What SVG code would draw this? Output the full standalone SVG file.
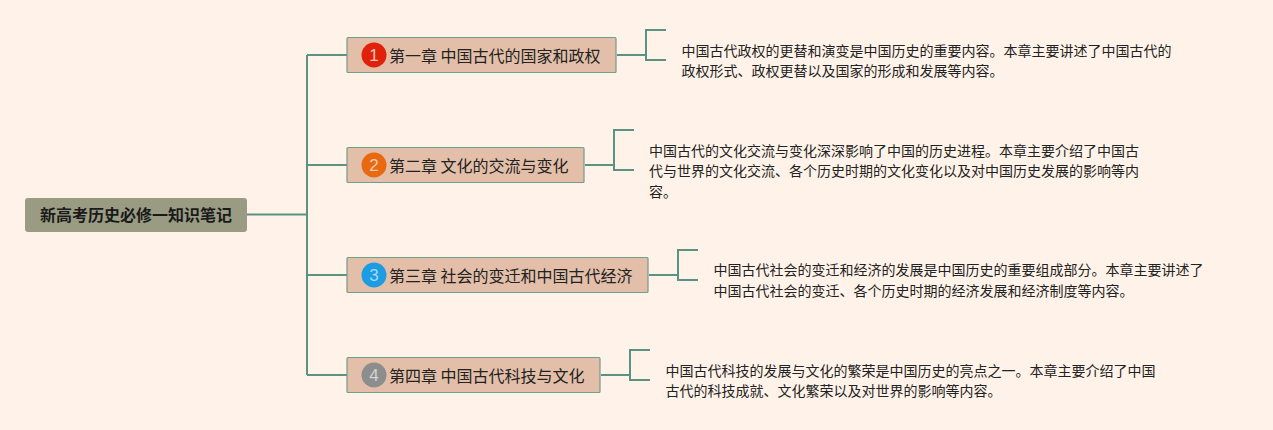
<svg xmlns="http://www.w3.org/2000/svg" width="1273" height="430" viewBox="0 0 1273 430">
<style>
.c{fill:none;stroke:#5c9282;stroke-width:2}
.t{fill:#e3bfa9;stroke:#6f9e8b;stroke-width:1.2}
.h{font-family:"Noto Sans CJK SC","Liberation Sans",sans-serif;font-size:16px;fill:#222}
.d{font-family:"Noto Sans CJK SC","Liberation Sans",sans-serif;font-size:14px;fill:#222}
.n{font-family:"Liberation Sans",sans-serif;font-size:17px;text-anchor:middle;fill:#f4c9b4}
</style>
<rect width="1273" height="430" fill="#fff3e9"/>
<g id="connectors" class="c">
<path d="M247 214.500H307M307 55V375M307 55H347M307 165H347M307 275H347M307 375H347"/>
<path d="M617 55H646M666 30H646V60H666"/>
<path d="M585 165H614M634 130H614V170H634"/>
<path d="M649 275H678M698 250H678V280H698"/>
<path d="M601 375H630M650 350H630V380H650"/>
</g>
<g id="root"><rect x="25" y="198" width="222" height="34" rx="3" fill="#999c82"/><text x="136" y="220.500" text-anchor="middle" font-family="'Noto Sans CJK SC',sans-serif" font-size="16" font-weight="700" fill="#1a1a1a">新高考历史必修一知识笔记</text></g>
<g id="n1"><rect class="t" x="347" y="37.500" width="269" height="35" rx="1"/><circle cx="374" cy="55" r="12.500" fill="#e0210b"/><text class="n" x="374" y="61">1</text><text class="h" x="389" y="61.500">第一章 中国古代的国家和政权</text></g>
<g id="n2"><rect class="t" x="347" y="147.500" width="237" height="35" rx="1"/><circle cx="374" cy="165" r="12.500" fill="#e8690f"/><text class="n" x="374" y="171">2</text><text class="h" x="389" y="171.500">第二章 文化的交流与变化</text></g>
<g id="n3"><rect class="t" x="347" y="257.500" width="301" height="35" rx="1"/><circle cx="374" cy="275" r="12.500" fill="#1c9ce2"/><text class="n" x="374" y="281" style="fill:#a9d8f0">3</text><text class="h" x="389" y="281.500">第三章 社会的变迁和中国古代经济</text></g>
<g id="n4"><rect class="t" x="347" y="357.500" width="253" height="35" rx="1"/><circle cx="374" cy="375" r="12.500" fill="#8d8d8d"/><text class="n" x="374" y="381" style="fill:#d4d4d4">4</text><text class="h" x="389" y="381.500">第四章 中国古代科技与文化</text></g>
<g id="d1" class="d"><text x="681.500" y="56">中国古代政权的更替和演变是中国历史的重要内容。本章主要讲述了中国古代的</text><text x="681.500" y="76">政权形式、政权更替以及国家的形成和发展等内容。</text></g>
<g id="d2" class="d"><text x="649" y="156">中国古代的文化交流与变化深深影响了中国的历史进程。本章主要介绍了中国古</text><text x="649" y="176">代与世界的文化交流、各个历史时期的文化变化以及对中国历史发展的影响等内</text><text x="649" y="197">容。</text></g>
<g id="d3" class="d"><text x="713.500" y="275">中国古代社会的变迁和经济的发展是中国历史的重要组成部分。本章主要讲述了</text><text x="713.500" y="296">中国古代社会的变迁、各个历史时期的经济发展和经济制度等内容。</text></g>
<g id="d4" class="d"><text x="665.500" y="376">中国古代科技的发展与文化的繁荣是中国历史的亮点之一。本章主要介绍了中国</text><text x="665.500" y="396">古代的科技成就、文化繁荣以及对世界的影响等内容。</text></g>
</svg>
